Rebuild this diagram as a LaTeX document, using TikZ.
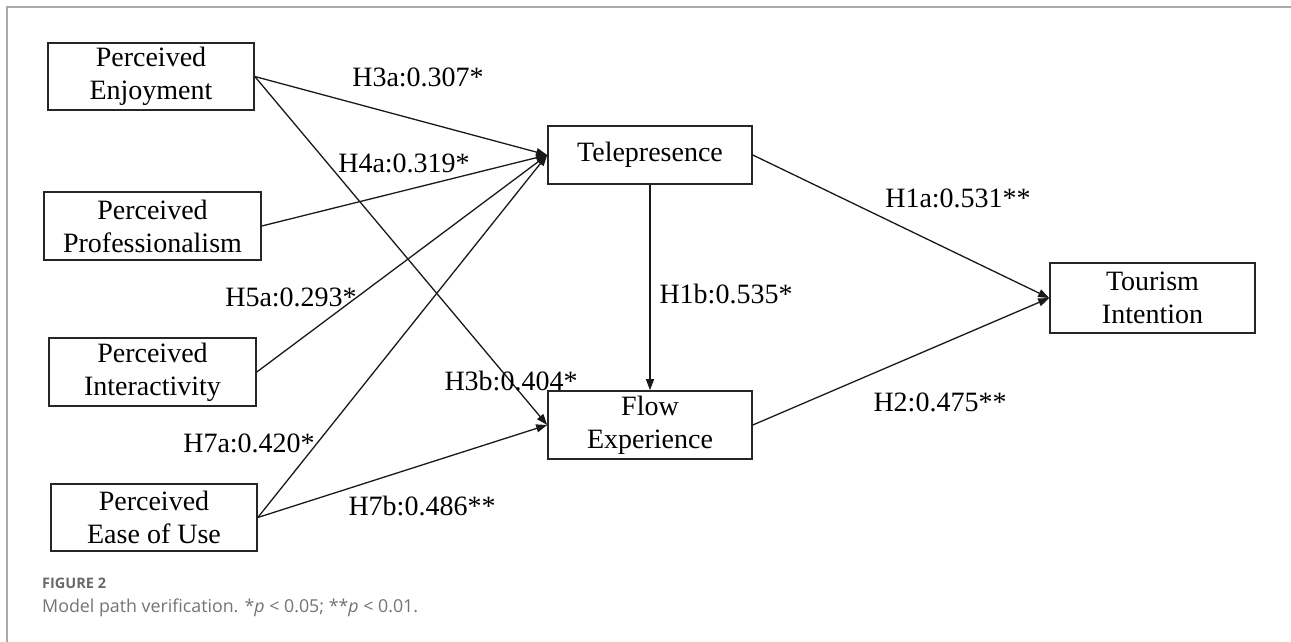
\documentclass[tikz,border=0pt]{standalone}
\usepackage{fontspec}
\setmainfont{Liberation Serif}
\newfontfamily\capfont{Open Sans}
\usetikzlibrary{arrows.meta}
\definecolor{framegray}{RGB}{170,170,170}
\definecolor{capgray}{RGB}{115,115,115}
\definecolor{figgray}{RGB}{105,105,105}
\begin{document}
\begin{tikzpicture}[x=1pt,y=-1pt,
  box/.style={draw=black!85,line width=1.6pt,inner sep=0pt,align=center,
    font=\fontsize{28}{33}\selectfont},
  lbl/.style={inner sep=0pt,font=\fontsize{28}{33}\selectfont},
  conn/.style={line width=1.3pt,black!90,-{Triangle[length=11pt,width=8pt]}}]
\useasboundingbox (0,0) rectangle (1291,642);
% frame
\draw[framegray,line width=1.5pt] (7,642) -- (7,7) -- (1291,7);
% boxes
\node[box,minimum width=206pt,minimum height=67pt] (pe) at (151,76.5) {Perceived\\Enjoyment};
\node[box,minimum width=217pt,minimum height=68pt] (pp) at (152.5,226) {Perceived\\Professionalism};
\node[box,minimum width=207pt,minimum height=68pt] (pi) at (152.5,372) {Perceived\\Interactivity};
\node[box,minimum width=206pt,minimum height=67pt] (pu) at (154,517.5) {Perceived\\Ease of Use};
\node[box,minimum width=204pt,minimum height=58pt] (tp) at (650,155) {Telepresence};
\node[box,minimum width=204pt,minimum height=68pt] (fe) at (650,425) {Flow\\Experience};
\node[box,minimum width=205pt,minimum height=70pt] (ti) at (1152.5,298) {Tourism\\Intention};
% connectors
\draw[conn] (pe.east) -- (tp.west);
\draw[conn] (pe.east) -- (fe.west);
\draw[conn] (pp.east) -- (tp.west);
\draw[conn] (pi.east) -- (tp.west);
\draw[conn] (pu.east) -- (tp.west);
\draw[conn] (pu.east) -- (fe.west);
\draw[conn] (tp.south) -- (fe.north);
\draw[conn] (tp.east) -- (ti.west);
\draw[conn] (fe.east) -- (ti.west);
% labels
\node[lbl] (l3a) at (418,77) {H3a:0.307*};
\node[lbl] (l4a) at (404,163) {H4a:0.319*};
\node[lbl] (l5a) at (291,297) {H5a:0.293*};
\node[lbl] (l7a) at (249,443) {H7a:0.420*};
\node[lbl] (l3b) at (511,381) {H3b:0.404*};
\node[lbl] (l7b) at (422,506) {H7b:0.486**};
\node[lbl] (l1a) at (958,198) {H1a:0.531**};
\node[lbl] (l1b) at (726,294) {H1b:0.535*};
\node[lbl] (l2) at (940,402) {H2:0.475**};
% caption
\node[anchor=base west,inner sep=0pt,text=figgray,font=\capfont\bfseries\fontsize{14.5}{17}\selectfont] (fig) at (42,588) {FIGURE 2};
\node[anchor=base west,inner sep=0pt,text=capgray,font=\capfont\fontsize{17.8}{21}\selectfont] (cap) at (42,612) {Model path verification. *\textit{p} < 0.05; **\textit{p} < 0.01.};
\end{tikzpicture}
\end{document}
